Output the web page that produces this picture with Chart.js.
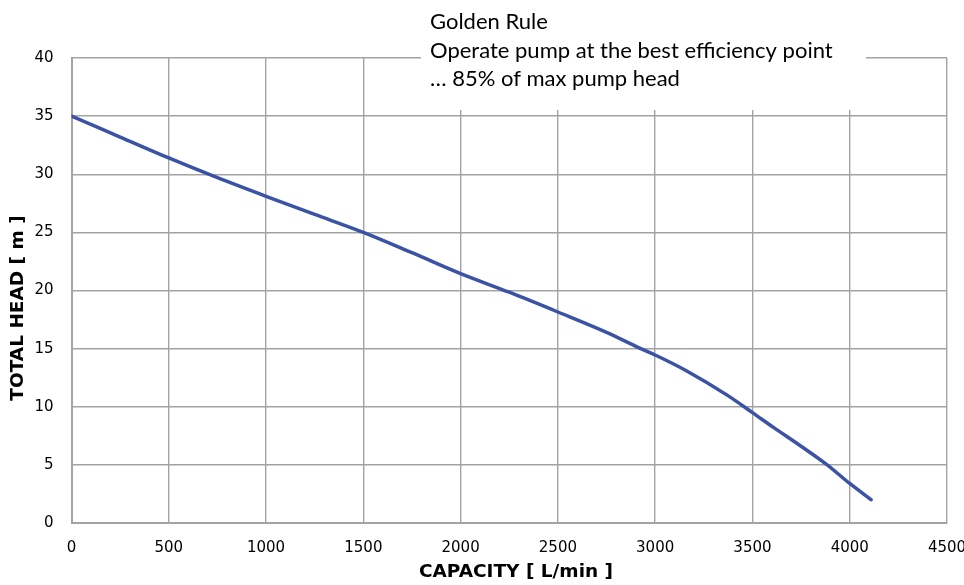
<!DOCTYPE html>
<html>
<head>
<meta charset="utf-8">
<script src="https://cdn.jsdelivr.net/npm/chart.js@4/dist/chart.umd.min.js"></script>
<style>
  html, body { margin: 0; padding: 0; background: #fff; }
  #wrap { width: 964px; height: 585px; }
</style>
</head>
<body>
<div id="wrap"><canvas id="pumpChart"></canvas></div>
<script>
// pump curve
const capacity = [0, 250, 500, 750, 1000, 1250, 1500, 1750, 2000, 2250, 2500, 2750, 2920, 3000, 3160, 3370, 3500, 3610, 3750, 3884, 4000, 4110]
const head = [35, 33.2, 31.4, 29.7, 28.1, 26.55, 25.0, 23.25, 21.45, 19.85, 18.15, 16.4, 15.05, 14.45, 13.1, 11.0, 9.5, 8.2, 6.6, 5.0, 3.4, 2.0]
const xTicks = [0, 500, 1000, 1500, 2000, 2500, 3000, 3500, 4000, 4500]
const yTicks = [0, 5, 10, 15, 20, 25, 30, 35, 40]
const xTitle = 'CAPACITY [ L/min ]'
const yTitle = 'TOTAL HEAD [ m ]'
const noteLines = ['Golden Rule', 'Operate pump at the best efficiency point', '… 85% of max pump head']

const gridColor = '#a3a3a3'

// note box on top of the plot + axis titles (placed a bit off-centre like the original)
const notePlugin = {
    id: 'note',
    afterDraw(chart) {
        const ctx = chart.ctx
        ctx.save()
        ctx.fillStyle = '#fff'
        ctx.fillRect(421, 0, 445, 110)
        ctx.fillStyle = '#000'
        ctx.font = '22px Lato, "Open Sans", sans-serif'
        ctx.textBaseline = 'alphabetic'
        ctx.textAlign = 'left'
        noteLines.forEach(function(t, i) {
            ctx.fillText(t, 430, 29 + i * 28.7)
        })

        ctx.font = 'bold 18.5px "DejaVu Sans"'
        ctx.textAlign = 'center'
        ctx.textBaseline = 'middle'
        ctx.fillText(xTitle, 516, 572)
        ctx.translate(18, 308)
        ctx.rotate(-Math.PI / 2)
        ctx.fillText(yTitle, 0, 0)
        ctx.restore()
    }
}

const ctx = document.getElementById('pumpChart').getContext('2d')
const pumpChart = new Chart(ctx, {
    type: 'line',
    data: {
        datasets: [{
            data: capacity.map(function(c, i) { return {x: c, y: head[i]} }),
            borderColor: '#3a53a4',
            borderWidth: 3.5,
            pointRadius: 0,
            cubicInterpolationMode: 'monotone',
            borderJoinStyle: 'round',
            borderCapStyle: 'round',
            fill: false
        }]
    },
    options: {
        responsive: true,
        maintainAspectRatio: false,
        animation: false,
        layout: { padding: { top: 58, right: 17, left: 0, bottom: 0 } },
        plugins: { legend: { display: false }, tooltip: { enabled: false } },
        scales: {
            x: {
                type: 'linear',
                min: 0,
                max: 4500,
                afterBuildTicks: function(scale) { scale.ticks = xTicks.map(function(v) { return {value: v} }) },
                afterFit: function(scale) {
                    scale.height = 62
                    scale.paddingLeft = 0
                    scale.paddingRight = 0
                },
                grid: { color: gridColor, lineWidth: 1.4, drawTicks: false },
                border: { color: gridColor, width: 2 },
                ticks: {
                    color: '#000', padding: 16, maxRotation: 0,
                    font: { family: 'DejaVu Sans', size: 15 },
                    callback: function(v) { return String(v) }
                }
            },
            y: {
                min: 0,
                max: 40,
                afterBuildTicks: function(scale) { scale.ticks = yTicks.map(function(v) { return {value: v} }) },
                afterFit: function(scale) {
                    scale.width = 71.5
                    scale.paddingTop = 0
                    scale.paddingBottom = 0
                },
                grid: { color: gridColor, lineWidth: 1.4, drawTicks: false },
                border: { color: gridColor, width: 2 },
                ticks: {
                    color: '#000', padding: 18,
                    font: { family: 'DejaVu Sans', size: 15 },
                    callback: function(v) { return String(v) }
                }
            }
        }
    },
    plugins: [notePlugin]
})
</script>
</body>
</html>
